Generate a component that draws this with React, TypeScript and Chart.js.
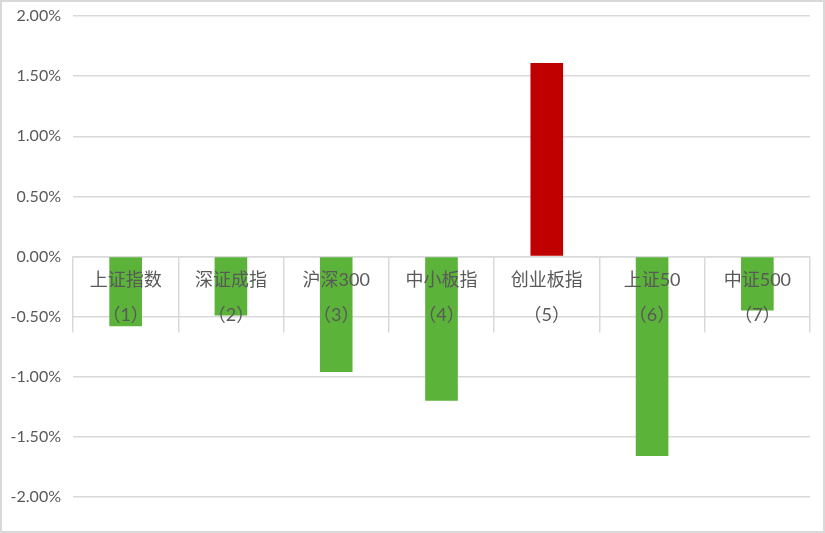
import React, { useEffect, useRef } from "react";
import { Chart, registerables } from "chart.js";

Chart.register(...registerables);

const names = ["上证指数", "深证成指", "沪深300", "中小板指", "创业板指", "上证50", "中证500"];
const codes = ["（1）", "（2）", "（3）", "（4）", "（5）", "（6）", "（7）"];
const changes = [-0.58, -0.49, -0.96, -1.2, 1.61, -1.66, -0.45];
const yTicks = [-2, -1.5, -1, -0.5, 0, 0.5, 1, 1.5, 2];

const GREEN = "#5BB33A";
const RED = "#C00000";
const GRID = "#D9D9D9";
const TEXT = "#595959";

export default function App() {
  const ref = useRef<HTMLCanvasElement | null>(null);

  useEffect(() => {
    if (!ref.current) return;
    const labels = names.map((n, i) => [n, codes[i]]);
    const chart = new Chart(ref.current, {
      type: "bar",
      data: {
        labels,
        datasets: [
          {
            data: changes,
            backgroundColor: changes.map((v) => (v >= 0 ? RED : GREEN)),
            borderWidth: 0,
            categoryPercentage: 1,
            barPercentage: 0.31,
          },
        ],
      },
      options: {
        animation: false,
        responsive: true,
        maintainAspectRatio: false,
        layout: { padding: { left: 0, top: 16, right: 15, bottom: 36 } },
        plugins: { legend: { display: false }, tooltip: { enabled: false } },
        scales: {
          y: {
            min: yTicks[0],
            max: yTicks[yTicks.length - 1],
            afterFit: (s: any) => {
              s.width = 73;
              s.paddingTop = 0;
              s.paddingBottom = 0;
            },
            afterBuildTicks: (s: any) => {
              s.ticks = yTicks.map((v) => ({ value: v }));
            },
            ticks: {
              stepSize: 0.5,
              padding: 12,
              color: TEXT,
              font: { family: "Lato, 'Noto Sans CJK SC'", size: 16 },
              callback: (v: any) => Number(v).toFixed(2) + "%",
            },
            grid: { color: GRID, lineWidth: 1.5, drawTicks: false },
            border: { display: false },
          },
          x: {
            position: { y: 0 } as any,
            offset: true,
            afterFit: (s: any) => {
              s.paddingLeft = 0;
              s.paddingRight = 0;
            },
            grid: {
              offset: true,
              drawOnChartArea: false,
              drawTicks: true,
              tickLength: 75,
              color: GRID,
              lineWidth: 1.5,
            },
            border: { display: true, color: GRID, width: 1.5 },
            ticks: {
              z: 1,
              padding: -69,
              autoSkip: false,
              maxRotation: 0,
              color: TEXT,
              font: { family: "Lato, 'Noto Sans CJK SC'", size: 18, lineHeight: 35 / 18 },
            },
          },
        },
      },
    });
    return () => chart.destroy();
  }, []);

  return (
    <div style={{ position: "absolute", left: 0, top: 0, width: 825, height: 533, background: "#fff" }}>
      <canvas ref={ref} />
      <div
        style={{
          position: "absolute",
          left: 0,
          top: 0,
          width: 825,
          height: 533,
          border: "2px solid #D9D9D9",
          boxSizing: "border-box",
          pointerEvents: "none",
        }}
      />
    </div>
  );
}
